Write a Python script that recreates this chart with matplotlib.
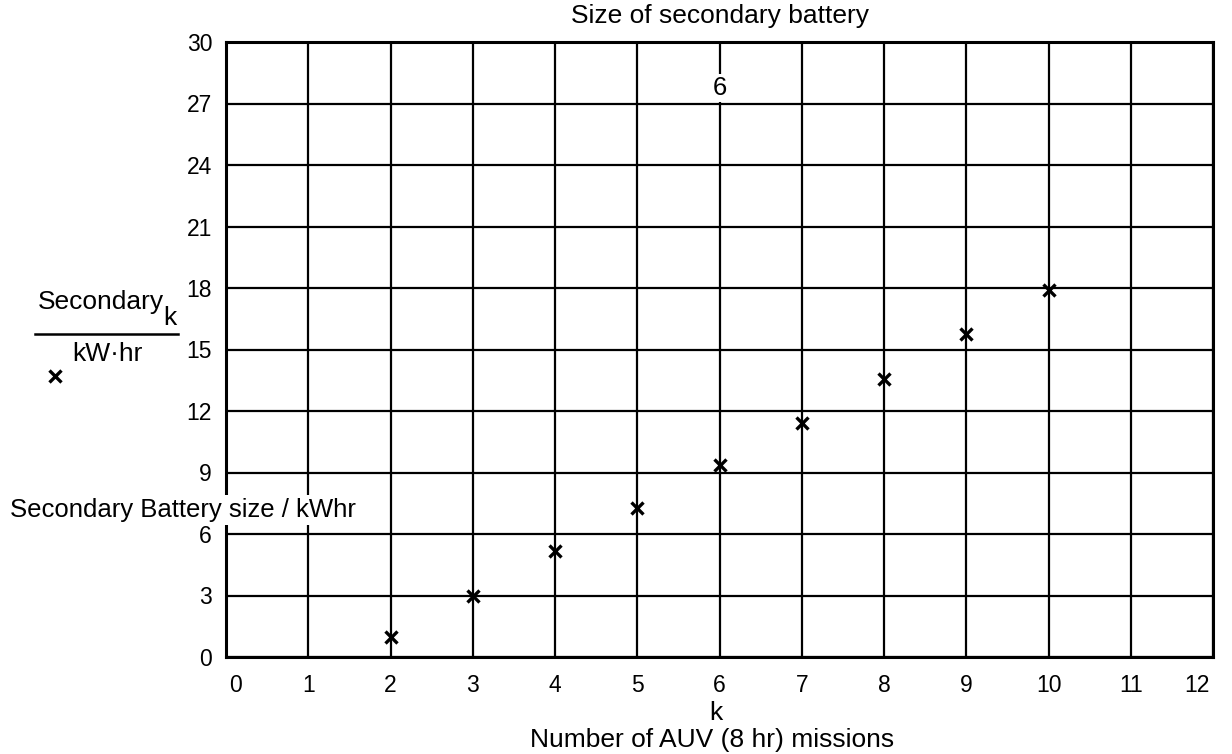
# Size of secondary battery vs number of AUV missions
import matplotlib
matplotlib.use("Agg")
import matplotlib.pyplot as plt
import matplotlib.transforms as mtransforms
from matplotlib.lines import Line2D

plt.rcParams['font.family'] = ['Liberation Sans', 'DejaVu Sans']

# data
missions = [2, 3, 4, 5, 6, 7, 8, 9, 10]
battery_kwhr = [1.0, 3.0, 5.15, 7.25, 9.35, 11.4, 13.55, 15.75, 17.9]
x_ticks = list(range(0, 13))
y_ticks = list(range(0, 31, 3))

W, H = 1232, 754
fig = plt.figure(figsize=(W / 100, H / 100), dpi=100)

def fx(px):
    return px / W

def fy(py):
    return 1 - py / H

ax = fig.add_axes([fx(226), fy(657), fx(1213) - fx(226), fy(42) - fy(657)])
ax.set_xlim(0, 12)
ax.set_ylim(0, 30)
ax.set_xticks(x_ticks)
ax.set_yticks(y_ticks)
ax.grid(True, color='black', lw=1.6)
ax.set_axisbelow(True)
for s in ax.spines.values():
    s.set_linewidth(2.2)
ax.tick_params(length=0, labelsize=16.5, pad=10)
ax.tick_params(axis='x', pad=12)

# end labels sit a bit inside in the original drawing
xlabels = ax.get_xticklabels()
xlabels[0].set_transform(xlabels[0].get_transform() +
                         mtransforms.ScaledTranslation(0.09, 0, fig.dpi_scale_trans))
xlabels[-1].set_transform(xlabels[-1].get_transform() +
                          mtransforms.ScaledTranslation(-0.16, 0, fig.dpi_scale_trans))

ax.plot(missions, battery_kwhr, ls='none', marker='x', color='black',
        markersize=9, mew=2.4, zorder=5)

# label inside the top row
ax.text(6, 27.75, '6', ha='center', va='center', fontsize=18.5, zorder=6,
        bbox=dict(facecolor='white', edgecolor='none', pad=1.5))

fig.text(fx(720), fy(16), 'Size of secondary battery', ha='center',
         va='center', fontsize=19)
fig.text(fx(716), fy(713), 'k', ha='center', va='center', fontsize=19)
fig.text(fx(712), fy(740), 'Number of AUV (8 hr) missions', ha='center',
         va='center', fontsize=19)

# left side label
fig.text(fx(38), fy(302), 'Secondary', ha='left', va='center', fontsize=19)
fig.text(fx(163), fy(318), 'k', ha='left', va='center', fontsize=19)
fig.add_artist(Line2D([fx(35), fx(178)], [fy(334), fy(334)], color='black',
                      lw=1.8, transform=fig.transFigure))
fig.text(fx(72), fy(354), 'kW\u00b7hr', ha='left', va='center', fontsize=19)
fig.add_artist(Line2D([fx(55)], [fy(376)], marker='x', color='black',
                      markersize=9, mew=2.4, ls='none',
                      transform=fig.transFigure))

fig.text(fx(10), fy(510), 'Secondary Battery size / kWhr', ha='left',
         va='center', fontsize=18.5, zorder=10,
         bbox=dict(facecolor='white', edgecolor='none', pad=2))

fig.savefig('out.png', dpi=100)
